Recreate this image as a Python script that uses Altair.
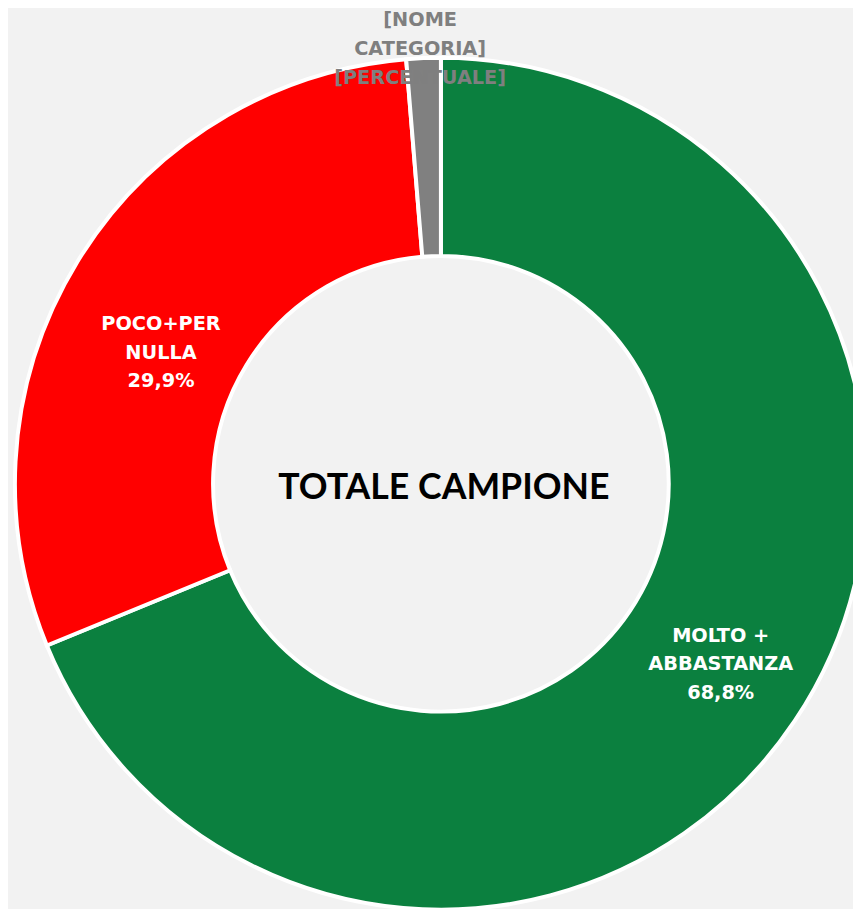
import altair as alt
import pandas as pd

categories = ["MOLTO +\nABBASTANZA", "POCO+PER\nNULLA", "[NOME\nCATEGORIA]"]
values = [68.8, 29.9, 1.3]
pct_labels = ["68,8%", "29,9%", "[PERCENTUALE]"]
colors = ["#0b803f", "#ff0000", "#808080"]
inside = [True, True, False]

df = pd.DataFrame({
    "cat": categories,
    "val": values,
    "idx": [0, 1, 2],
    "lab": [c + "\n" + p for c, p in zip(categories, pct_labels)],
})
df["lab_green"] = [l if k == 0 else "" for k, l in enumerate(df["lab"])]
df["lab_red"] = [l if k == 1 else "" for k, l in enumerate(df["lab"])]
df["lab_out"] = [l if not i else "" for l, i in zip(df["lab"], inside)]

CX, CY = 437, 476
base = alt.Chart(df).encode(
    theta=alt.Theta("val:Q", stack=True),
    order=alt.Order("idx:Q"),
    x=alt.value(CX),
    y=alt.value(CY),
)

arcs = base.mark_arc(outerRadius=430, innerRadius=230, stroke="white", strokeWidth=4).encode(
    color=alt.Color("cat:N", scale=alt.Scale(domain=categories, range=colors), legend=None)
)

tstyle = dict(font="DejaVu Sans", fontWeight="bold", fontSize=19.5, lineHeight=29,
              baseline="middle", lineBreak="\n")
txt_green = base.mark_text(radius=322, color="white", dx=15, dy=-26, **tstyle).encode(text="lab_green:N")
txt_red = base.mark_text(radius=322, color="white", dx=-8, dy=7, **tstyle).encode(text="lab_red:N")
txt_out = base.mark_text(radius=440, color="#7f7f7f", dx=-3, dy=-28, **tstyle).encode(text="lab_out:N")

center = alt.Chart(pd.DataFrame({"t": ["TOTALE CAMPIONE"]})).mark_text(
    font="Lato", fontWeight="bold", fontSize=36, color="black", baseline="middle"
).encode(text="t:N", x=alt.value(CX + 3), y=alt.value(CY + 4))

chart = alt.layer(arcs, txt_green, txt_red, txt_out, center).properties(
    width=853, height=901, autosize=alt.AutoSizeParams(type="none"), padding=0,
    background="#f2f2f2"
).configure_view(stroke=None)

chart.save("out.html", embed_options={"renderer": "svg", "actions": False})
